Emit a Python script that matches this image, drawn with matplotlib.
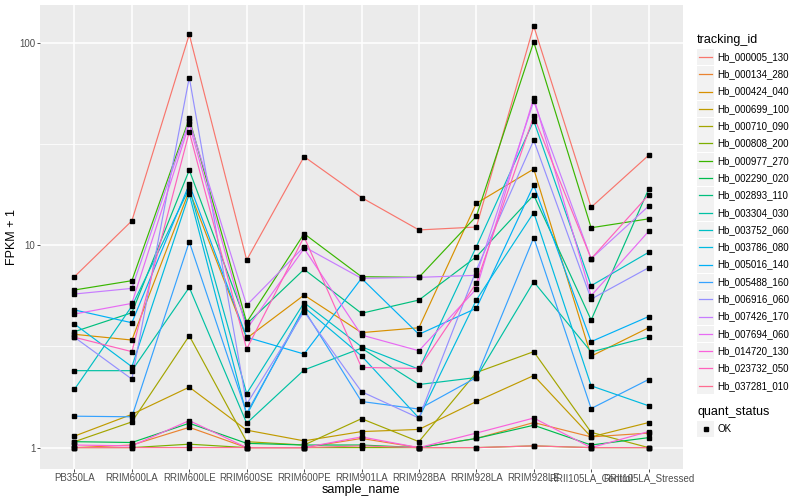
import numpy as np
import matplotlib
matplotlib.use("Agg")
import matplotlib.pyplot as plt
from matplotlib.lines import Line2D
from matplotlib.patches import Rectangle
from matplotlib.ticker import FixedLocator, NullFormatter

plt.rcParams['font.family'] = ['Liberation Sans', 'DejaVu Sans']

samples = ["PB350LA", "RRIM600LA", "RRIM600LE", "RRIM600SE", "RRIM600PE", "RRIM901LA",
           "RRIM928BA", "RRIM928LA", "RRIM928LE", "RRII105LA_Control", "RRII105LA_Stressed"]

tracking_ids = ["Hb_000005_130", "Hb_000134_280", "Hb_000424_040", "Hb_000699_100",
                "Hb_000710_090", "Hb_000808_200", "Hb_000977_270", "Hb_002290_020",
                "Hb_002893_110", "Hb_003304_030", "Hb_003752_060", "Hb_003786_080",
                "Hb_005016_140", "Hb_005488_160", "Hb_006916_060", "Hb_007426_170",
                "Hb_007694_060", "Hb_014720_130", "Hb_023732_050", "Hb_037281_010"]

colors = ["#F8766D", "#EA8331", "#D89000", "#C09B00", "#A3A500", "#7CAE00", "#39B600",
          "#00BB4E", "#00BF7D", "#00C1A3", "#00BFC4", "#00BAE0", "#00B0F6", "#35A2FF",
          "#9590FF", "#C77CFF", "#E76BF3", "#FA62DB", "#FF62BC", "#FF6C91"]

Hb_000005_130 = [6.99, 13.2, 110, 8.45, 27.4, 17.2, 11.9, 12.3, 121, 15.4, 27.8]
Hb_000134_280 = [1.0, 1.03, 1.26, 1.0, 1.0, 1.11, 1.0, 1.11, 1.33, 1.13, 1.18]
Hb_000424_040 = [3.63, 3.40, 18.6, 3.47, 5.67, 3.70, 3.91, 16.1, 23.8, 2.83, 3.91]
Hb_000699_100 = [1.14, 1.46, 1.99, 1.22, 1.08, 1.20, 1.23, 1.69, 2.27, 1.13, 1.33]
Hb_000710_090 = [1.07, 1.34, 3.57, 1.07, 1.03, 1.39, 1.07, 2.35, 2.98, 1.19, 1.0]
Hb_000808_200 = [1.0, 1.0, 1.04, 1.0, 1.0, 1.0, 1.0, 1.0, 1.02, 1.0, 1.0]
Hb_000977_270 = [6.01, 6.68, 42.3, 4.16, 11.4, 6.99, 6.94, 13.9, 101, 12.2, 13.5]
Hb_002290_020 = [1.07, 1.06, 1.32, 1.05, 1.03, 1.03, 1.0, 1.11, 1.29, 1.03, 1.12]
Hb_002893_110 = [3.74, 4.64, 23.5, 4.08, 7.6, 4.61, 5.36, 8.77, 17.7, 4.27, 18.9]
Hb_003304_030 = [2.40, 2.40, 6.19, 1.32, 2.42, 3.10, 2.05, 2.22, 6.6, 2.97, 3.52]
Hb_003752_060 = [1.94, 5.0, 19.1, 1.85, 5.2, 3.15, 2.44, 9.83, 41.2, 6.31, 9.22]
Hb_003786_080 = [4.08, 2.51, 17.9, 1.45, 4.93, 2.84, 1.40, 5.36, 14.5, 2.02, 1.61]
Hb_005016_140 = [4.79, 4.14, 20.0, 3.51, 2.90, 6.86, 3.63, 4.88, 19.8, 3.34, 4.44]
Hb_005488_160 = [1.43, 1.42, 10.4, 1.48, 4.8, 1.69, 1.55, 2.22, 10.9, 1.56, 2.17]
Hb_006916_060 = [3.51, 2.18, 67.4, 1.64, 4.70, 1.89, 1.40, 7.54, 33.0, 5.42, 7.74]
Hb_007426_170 = [5.74, 6.12, 41.2, 5.05, 9.83, 6.86, 6.94, 7.10, 51.5, 8.58, 15.6]
Hb_007694_060 = [4.57, 5.16, 39.6, 3.85, 9.64, 3.60, 3.01, 6.08, 53.5, 5.63, 11.7]
Hb_014720_130 = [1.03, 1.02, 1.36, 1.0, 1.0, 1.13, 1.0, 1.18, 1.40, 1.0, 1.20]
Hb_023732_050 = [3.51, 2.98, 36.3, 3.07, 11.0, 2.49, 2.46, 6.5, 43.4, 8.58, 17.7]
Hb_037281_010 = [1.0, 1.0, 1.0, 1.0, 1.0, 1.02, 1.0, 1.0, 1.02, 1.0, 1.0]

series = [Hb_000005_130, Hb_000134_280, Hb_000424_040, Hb_000699_100, Hb_000710_090,
          Hb_000808_200, Hb_000977_270, Hb_002290_020, Hb_002893_110, Hb_003304_030,
          Hb_003752_060, Hb_003786_080, Hb_005016_140, Hb_005488_160, Hb_006916_060,
          Hb_007426_170, Hb_007694_060, Hb_014720_130, Hb_023732_050, Hb_037281_010]

W, H = 800, 500
fig = plt.figure(figsize=(8, 5), dpi=100)
ax_left, ax_right, ax_top, ax_bottom = 40, 683, 5, 468.7
ax = fig.add_axes([ax_left / W, 1 - ax_bottom / H, (ax_right - ax_left) / W,
                   (ax_bottom - ax_top) / H])
ax.set_facecolor("#EBEBEB")

x = np.arange(len(samples))
for vals, c in zip(series, colors):
    ax.plot(x, vals, color=c, lw=0.85, zorder=2)
for vals in series:
    ax.plot(x, vals, ls='none', marker='s', ms=2.3, color='black', zorder=3)

ax.set_yscale('log')
allv = np.log10(np.concatenate([np.array(s, float) for s in series]))
lo, hi = allv.min(), allv.max()
pad = (hi - lo) * 0.05
ax.set_ylim(10 ** (lo - pad), 10 ** (hi + pad))
ax.set_xlim(-0.6, len(samples) - 1 + 0.6)

ax.yaxis.set_major_locator(FixedLocator([1, 10, 100]))
ax.yaxis.set_minor_locator(FixedLocator([10 ** 0.5, 10 ** 1.5]))
ax.yaxis.set_minor_formatter(NullFormatter())
ax.set_yticklabels(["1", "10", "100"])
ax.set_xticks(x)
ax.set_xticklabels(samples)

ax.grid(True, which='major', color='white', lw=1.1, zorder=0)
ax.grid(True, which='minor', axis='y', color='white', lw=0.55, zorder=0)
ax.set_axisbelow(True)
for s in ax.spines.values():
    s.set_visible(False)
ax.tick_params(axis='both', which='major', length=2.5, width=0.6, color='#333333',
               labelsize=7, labelcolor='#4D4D4D', pad=0.8)
ax.tick_params(axis='y', which='minor', length=0)
pw, ph = ax_right - ax_left, ax_bottom - ax_top
ax.set_xlabel("sample_name", fontsize=9, color='black')
ax.xaxis.set_label_coords((361 - ax_left) / pw, -(484.5 - ax_bottom) / ph)
ax.xaxis.label.set_va('top')
ax.set_ylabel("FPKM + 1", fontsize=9, color='black')
ax.yaxis.set_label_coords(-(ax_left - 12) / pw, (ax_bottom - 237) / ph)
ax.yaxis.label.set_va('center')

# legend drawn manually
lx = 697 / W
fig.text(lx, 1 - 40 / H, "tracking_id", fontsize=9, va='center', ha='left')
step = 17.3
for i, (name, c) in enumerate(zip(tracking_ids, colors)):
    yc = 57 + i * step
    fig.add_artist(Rectangle((697 / W, 1 - (yc + 8.3) / H), 16.6 / W, 16.6 / H,
                             transform=fig.transFigure, facecolor='#F2F2F2', edgecolor='none'))
    fig.add_artist(Line2D([699 / W, 712 / W], [1 - yc / H, 1 - yc / H],
                          transform=fig.transFigure, color=c, lw=0.9))
    fig.text(717 / W, 1 - yc / H, name, fontsize=7, va='center', ha='left', color='black')

fig.text(lx, 1 - 412 / H, "quant_status", fontsize=9, va='center', ha='left')
yc = 429
fig.add_artist(Rectangle((697 / W, 1 - (yc + 8.3) / H), 16.6 / W, 16.6 / H,
                         transform=fig.transFigure, facecolor='#F2F2F2', edgecolor='none'))
fig.add_artist(Line2D([705.5 / W], [1 - yc / H], transform=fig.transFigure,
                      marker='s', ms=2.3, color='black', ls='none'))
fig.text(717 / W, 1 - yc / H, "OK", fontsize=7, va='center', ha='left')

fig.savefig("out.png", dpi=100)
